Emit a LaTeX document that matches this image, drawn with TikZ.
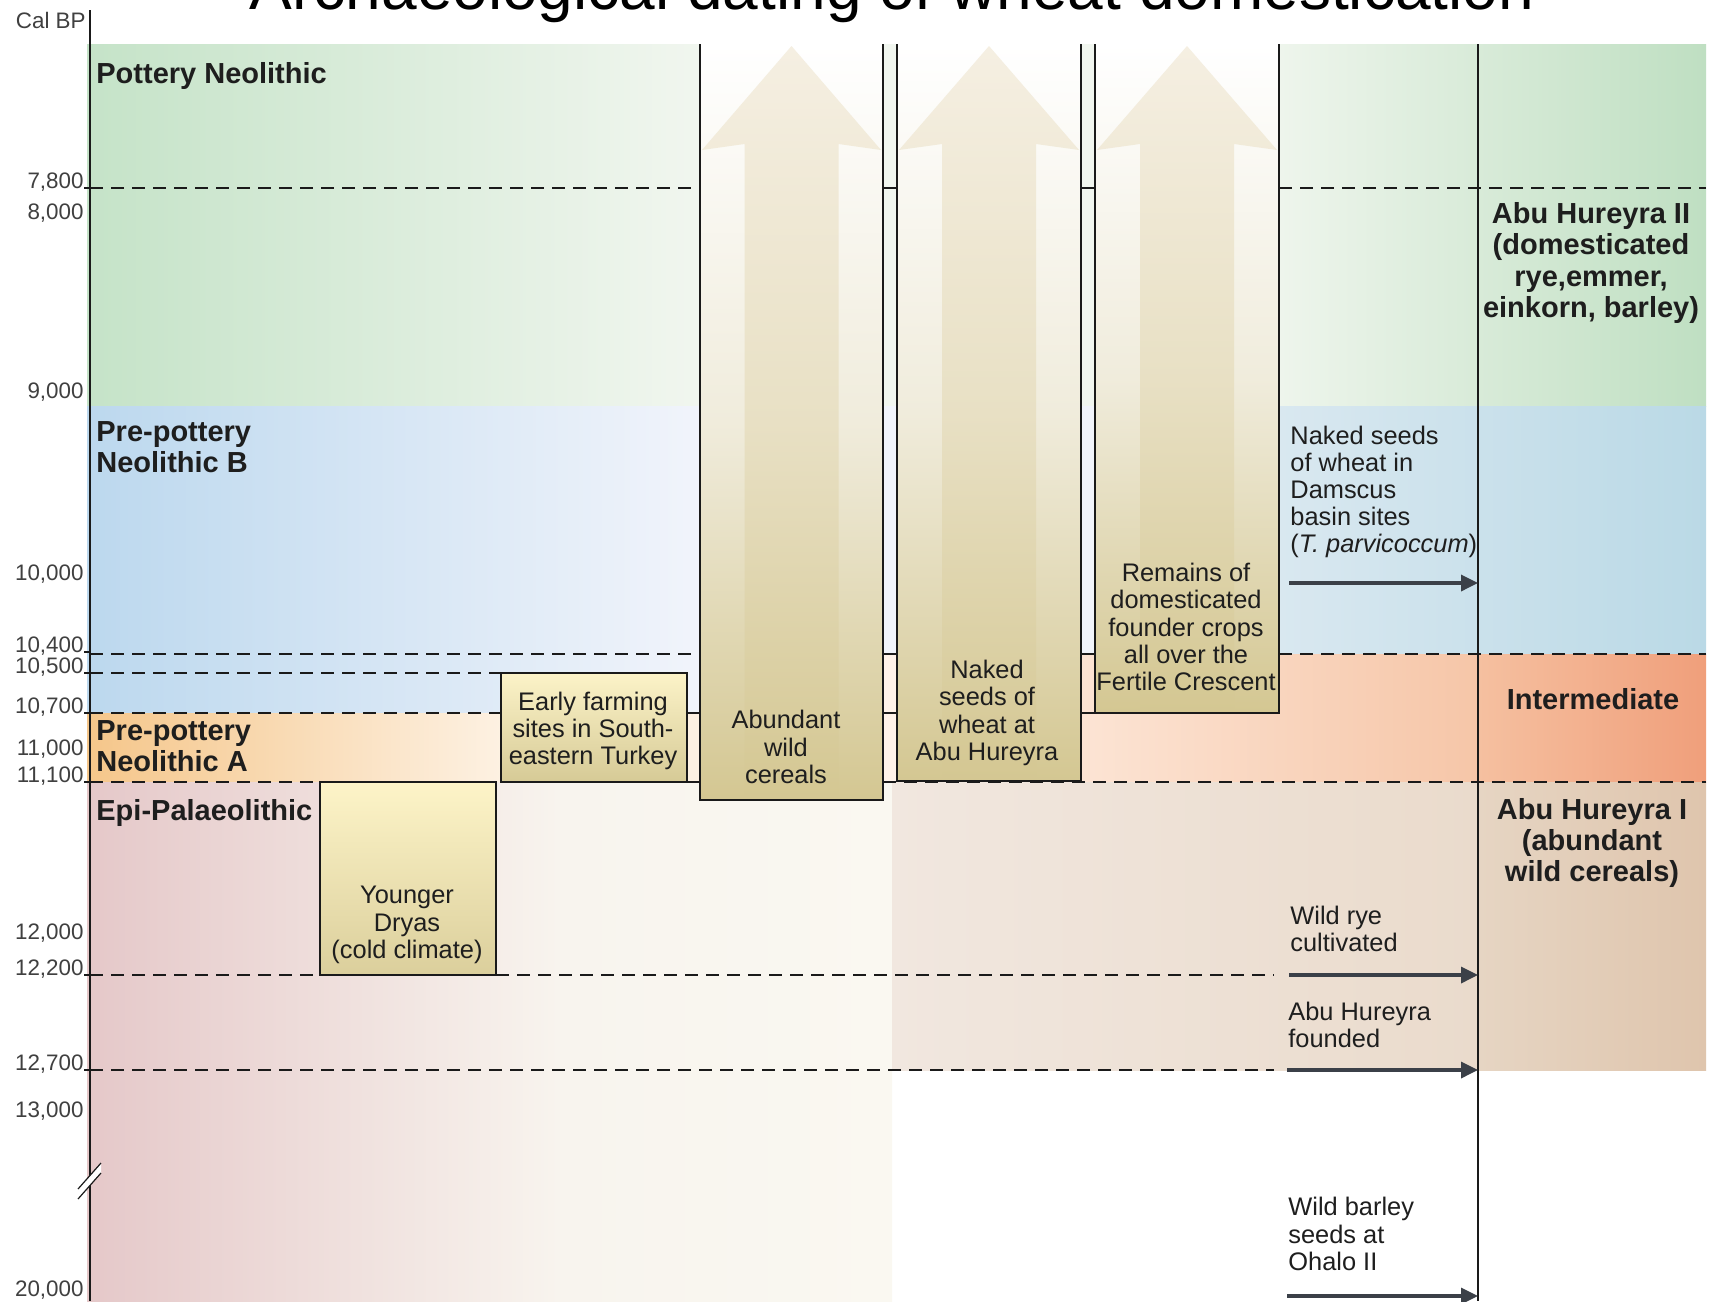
\documentclass[tikz,border=0pt]{standalone}
\usepackage{fontspec}
\setmainfont{Liberation Sans}
\usetikzlibrary{arrows.meta}

\definecolor{txt}{HTML}{1E1E1E}
\definecolor{linecol}{HTML}{1A1A1A}
\definecolor{arrowcol}{HTML}{3B4048}
\definecolor{tanbox}{HTML}{D4C792}
\definecolor{colmid}{HTML}{F0ECDC}
\definecolor{arrtop}{HTML}{F5EFE2}
\definecolor{arrmid}{HTML}{E8E0C4}
\definecolor{grnL}{HTML}{C5E3C8}
\definecolor{grnM}{HTML}{F1F6EF}
\definecolor{grnRa}{HTML}{EEF5EC}
\definecolor{grnRb}{HTML}{BFDFC2}
\definecolor{bluL}{HTML}{BCD8EE}
\definecolor{bluM}{HTML}{F1F4FB}
\definecolor{bluRa}{HTML}{D9E8F0}
\definecolor{bluRb}{HTML}{BAD9E6}
\definecolor{orgL}{HTML}{F5C68A}
\definecolor{orgM}{HTML}{FDF1E2}
\definecolor{pchL}{HTML}{FFF3EA}
\definecolor{pchM}{HTML}{F6C6A8}
\definecolor{pchRa}{HTML}{F5C0A0}
\definecolor{pchRb}{HTML}{F09F7B}
\definecolor{pnkL}{HTML}{E5C8C9}
\definecolor{pnkM}{HTML}{F8F4EE}
\definecolor{pnkR}{HTML}{FAF8F1}
\definecolor{bgeL}{HTML}{F1E7DF}
\definecolor{bgeM}{HTML}{EADBCC}
\definecolor{bgeRa}{HTML}{E6D5C3}
\definecolor{bgeRb}{HTML}{DFC5AD}
\definecolor{efTop}{HTML}{FCF3C8}
\definecolor{efBot}{HTML}{D6CA96}
\definecolor{ydTop}{HTML}{FDF4C8}
\definecolor{ydBot}{HTML}{DBCF9C}

\tikzset{
  dashline/.style={line width=1pt, draw=linecol, dash pattern=on 6.5pt off 4pt},
  tickseg/.style={line width=1pt, draw=linecol},
  colborder/.style={line width=1.2pt, draw=linecol},
  boxborder/.style={line width=1.1pt, draw=linecol},
  ticklbl/.style={font=\fontsize{11.2pt}{12pt}\selectfont, inner sep=0pt, text=txt!85},
  boxtxt/.style={font=\fontsize{12.7pt}{13.6pt}\selectfont, align=center, inner sep=0pt, text=txt},
  sidetxt/.style={font=\fontsize{12.7pt}{13.6pt}\selectfont, align=left, inner sep=0pt, text=txt, anchor=west},
  boldlbl/.style={font=\bfseries\fontsize{14.5pt}{15.6pt}\selectfont, inner sep=0pt, text=txt},
  evarrow/.style={line width=1.7pt, draw=arrowcol, -{Triangle[length=8.5pt,width=8pt]}}
}

\begin{document}
\begin{tikzpicture}[x=0.5pt,y=-0.5pt]
\clip (0,0) rectangle (1717,1301);
\fill[white] (0,0) rectangle (1717,1301);

% ---------- period bands ----------
% Pottery Neolithic (green)
\shade[left color=grnL, right color=grnM] (87,44) rectangle (700,406);
\fill[grnM] (700,44) rectangle (1279,406);
\shade[left color=grnRa, right color=grnRb] (1279,44) rectangle (1706,406);
% Pre-pottery Neolithic B (blue)
\shade[left color=bluL, right color=bluM] (87,406) rectangle (700,713);
\fill[bluM] (700,406) rectangle (1279,654);
\shade[left color=bluRa, right color=bluRb] (1279,406) rectangle (1706,654);
% Pre-pottery Neolithic A (orange)
\shade[left color=orgL, right color=orgM] (87,713) rectangle (501,782);
\fill[orgM] (501,713) rectangle (700,782);
% Intermediate (peach)
\shade[left color=pchL, right color=pchM] (883,654) rectangle (1478,782);
\shade[left color=pchRa, right color=pchRb] (1478,654) rectangle (1706,782);
% Epi-Palaeolithic (pink)
\shade[left color=pnkL, right color=pnkM] (87,782) rectangle (560,1301);
\shade[left color=pnkM, right color=pnkR] (560,782) rectangle (892,1301);
% Abu Hureyra I (beige)
\shade[left color=bgeL, right color=bgeM] (892,782) rectangle (1478,1070);
\shade[left color=bgeRa, right color=bgeRb] (1478,782) rectangle (1706,1070);

% ---------- dashed date lines ----------
\foreach \yy in {188,654}{
  \draw[dashline] (90,\yy) -- (700,\yy);
  \draw[tickseg] (883,\yy) -- (897,\yy);
  \draw[tickseg] (1081,\yy) -- (1095,\yy);
  \draw[dashline] (1279,\yy) -- (1706,\yy);
}
\draw[dashline] (90,673) -- (501,673);
\draw[dashline] (90,713) -- (501,713);
\draw[tickseg] (687,713) -- (700,713);
\draw[tickseg] (883,713) -- (897,713);
\draw[tickseg] (1081,713) -- (1095,713);
\draw[dashline] (90,782) -- (320,782);
\draw[tickseg] (687,782) -- (700,782);
\draw[dashline] (883,782) -- (1706,782);
\draw[dashline] (90,975) -- (320,975);
\draw[dashline] (496,975) -- (1274,975);
\draw[dashline] (90,1070) -- (1274,1070);

% ---------- columns with arrows ----------
% column 1
\shade[top color=white, bottom color=tanbox, middle color=colmid] (700,44) rectangle (883,800);
\shade[top color=arrtop, bottom color=tanbox, middle color=arrmid]
  (791.5,46) -- (881,150) -- (838.5,144) -- (838.5,800) -- (744.5,800) -- (744.5,144) -- (702,150) -- cycle;
\draw[colborder] (700,44) -- (700,800) -- (883,800) -- (883,44);
% column 2
\shade[top color=white, bottom color=tanbox, middle color=colmid] (897,44) rectangle (1081,781);
\shade[top color=arrtop, bottom color=tanbox, middle color=arrmid]
  (989,46) -- (1079,150) -- (1036,144) -- (1036,781) -- (942,781) -- (942,144) -- (899,150) -- cycle;
\draw[colborder] (897,44) -- (897,781) -- (1081,781) -- (1081,44);
% column 3
\shade[top color=white, bottom color=tanbox, middle color=colmid] (1095,44) rectangle (1279,713);
\shade[top color=arrtop, bottom color=tanbox, middle color=arrmid]
  (1187,46) -- (1277,150) -- (1234,144) -- (1234,713) -- (1140,713) -- (1140,144) -- (1097,150) -- cycle;
\draw[colborder] (1095,44) -- (1095,713) -- (1279,713) -- (1279,44);

% ---------- small boxes ----------
\shade[top color=efTop, bottom color=efBot] (501,673) rectangle (687,782);
\draw[boxborder] (501,673) rectangle (687,782);
\shade[top color=ydTop, bottom color=ydBot] (320,782) rectangle (496,975);
\draw[boxborder] (320,782) rectangle (496,975);

% ---------- vertical divider and axis ----------
\draw[line width=0.8pt, draw=linecol] (1478,44) -- (1478,1301);
\draw[line width=1pt, draw=linecol] (90,10) -- (90,1301);
\fill[white] (78,1189) -- (101,1163) -- (101,1173) -- (78,1199) -- cycle;
\draw[line width=0.6pt, draw=linecol] (78,1189) -- (101,1163);
\draw[line width=0.6pt, draw=linecol] (78,1199) -- (101,1173);

% ---------- axis labels ----------
\node[ticklbl, anchor=east] (calbp) at (86,20) {Cal BP};
\node[ticklbl, anchor=base east] (t7800) at (84,188) {7,800};
\node[ticklbl, anchor=east] (t8000) at (84,213) {8,000};
\node[ticklbl, anchor=east] (t9000) at (84,392) {9,000};
\node[ticklbl, anchor=east] (t10000) at (84,574) {10,000};
\node[ticklbl, anchor=base east] (t10400) at (84,652) {10,400};
\node[ticklbl, anchor=base east] (t10500) at (84,673) {10,500};
\node[ticklbl, anchor=base east] (t10700) at (84,713) {10,700};
\node[ticklbl, anchor=east] (t11000) at (84,749) {11,000};
\node[ticklbl, anchor=base east] (t11100) at (84,782) {11,100};
\node[ticklbl, anchor=east] (t12000) at (84,933) {12,000};
\node[ticklbl, anchor=base east] (t12200) at (84,975) {12,200};
\node[ticklbl, anchor=base east] (t12700) at (84,1070) {12,700};
\node[ticklbl, anchor=east] (t13000) at (84,1111) {13,000};
\node[ticklbl, anchor=east] (t20000) at (84,1290) {20,000};
\foreach \n in {t7800,t10400,t10500,t10700,t11100,t12200,t12700}{
  \draw[tickseg] (\n.base east) -- ++(6,0);
}

% ---------- period labels ----------
\node[boldlbl, anchor=west] (pn) at (96,76) {Pottery Neolithic};
\node[boldlbl, anchor=west, align=left] (ppnb) at (96,447) {Pre-pottery\\Neolithic B};
\node[boldlbl, anchor=west, align=left] (ppna) at (96,746) {Pre-pottery\\Neolithic A};
\node[boldlbl, anchor=west] (epi) at (96,813) {Epi-Palaeolithic};
\node[boldlbl, align=center] (ah2) at (1591,263) {Abu Hureyra II\\(domesticated\\rye,emmer,\\einkorn, barley)};
\node[boldlbl] (inter) at (1593,699) {Intermediate};
\node[boldlbl, align=center] (ah1) at (1592,843) {Abu Hureyra I\\(abundant\\wild cereals)};

% ---------- box texts ----------
\node[boxtxt] (early) at (593,731) {Early farming\\sites in South-\\eastern Turkey};
\node[boxtxt] (dryas) at (407,925) {Younger\\Dryas\\(cold climate)};
\node[boxtxt] (abund) at (786,747) {Abundant\\wild\\cereals};
\node[boxtxt] (naked) at (987,713) {Naked\\seeds of\\wheat at\\Abu Hureyra};
\node[boxtxt] (remains) at (1186,627) {Remains of\\domesticated\\founder crops\\all over the\\Fertile Crescent};

% ---------- event texts and arrows ----------
\node[sidetxt] (damscus) at (1290,492) {Naked seeds\\of wheat in\\Damscus\\basin sites\\(\textit{T. parvicoccum})};
\node[sidetxt] (rye) at (1290,929) {Wild rye\\cultivated};
\node[sidetxt] (found) at (1288,1025) {Abu Hureyra\\founded};
\node[sidetxt] (ohalo) at (1288,1234) {Wild barley\\seeds at\\Ohalo II};

\coordinate (a1s) at (1289,583);  \coordinate (a1e) at (1478,583);
\coordinate (a2s) at (1289,975);  \coordinate (a2e) at (1478,975);
\coordinate (a3s) at (1287,1070); \coordinate (a3e) at (1478,1070);
\coordinate (a4s) at (1287,1296); \coordinate (a4e) at (1478,1296);
\draw[evarrow] (a1s) -- (a1e);
\draw[evarrow] (a2s) -- (a2e);
\draw[evarrow] (a3s) -- (a3e);
\draw[evarrow] (a4s) -- (a4e);

% ---------- title ----------
\node[font=\fontsize{32pt}{36pt}\selectfont, anchor=base, inner sep=0pt, text=black] (title) at (892,10) {Archaeological dating of wheat domestication};
\end{tikzpicture}
\end{document}
